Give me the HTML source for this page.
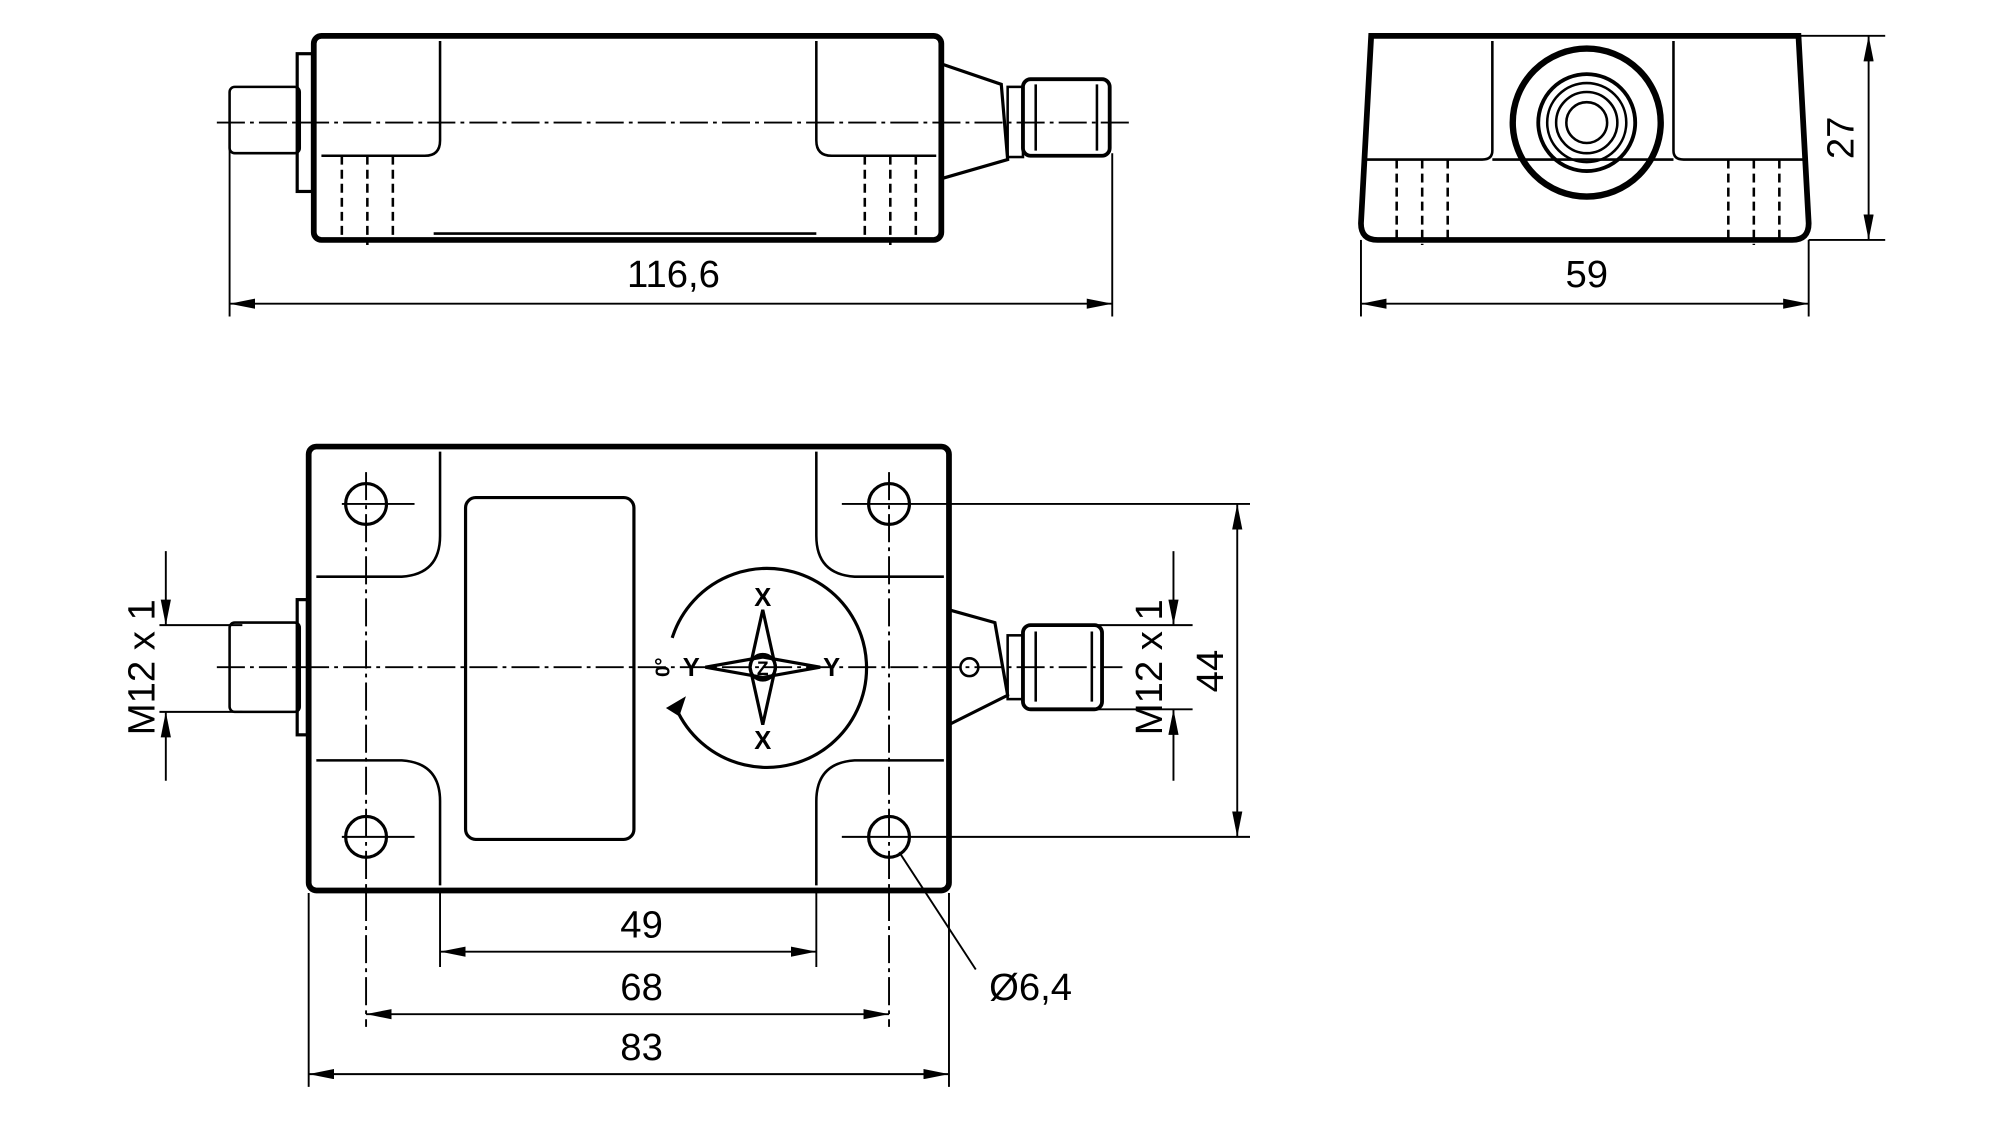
<!DOCTYPE html>
<html><head><meta charset="utf-8"><style>
html,body{margin:0;padding:0;background:#fff}
svg{display:block}
text{font-family:"Liberation Sans",sans-serif;fill:#000}
</style></head><body>
<svg width="2000" height="1124" viewBox="0 0 1568 881" xmlns="http://www.w3.org/2000/svg">
<defs>
<marker id="a" markerWidth="20" markerHeight="8" refX="20" refY="4" orient="auto" markerUnits="userSpaceOnUse"><path d="M0,0 L20,4 L0,8 z" fill="#000"/></marker>
<marker id="b" markerWidth="20" markerHeight="8" refX="0" refY="4" orient="auto" markerUnits="userSpaceOnUse"><path d="M20,0 L0,4 L20,8 z" fill="#000"/></marker>
</defs>
<g fill="none" stroke="#000" stroke-width="2">
<!-- TOP LEFT VIEW -->
<rect x="246" y="28" width="492" height="160" rx="6" stroke-width="4.5"/>
<path d="M345,32 L345,110 Q345,122 333,122 L252,122"/>
<path d="M640,32 L640,110 Q640,122 652,122 L734,122"/>
<line x1="340" y1="183" x2="640" y2="183"/>
<g stroke-dasharray="7,4"><line x1="268" y1="122" x2="268" y2="188"/><line x1="288" y1="122" x2="288" y2="192"/><line x1="308" y1="122" x2="308" y2="188"/>
<line x1="678" y1="122" x2="678" y2="188"/><line x1="698" y1="122" x2="698" y2="192"/><line x1="718" y1="122" x2="718" y2="188"/></g>
<rect x="180" y="68" width="55" height="52" rx="4"/>
<rect x="233" y="42" width="12" height="108" stroke-width="2.5"/>
<path d="M738,50 L785,66 L790,125 L738,140" stroke-width="2.5"/>
<rect x="790" y="68" width="12" height="55"/>
<rect x="802" y="62" width="68" height="60" rx="6" stroke-width="3"/>
<line x1="812" y1="66" x2="812" y2="118"/><line x1="860" y1="66" x2="860" y2="118"/>
<line x1="170" y1="96" x2="885" y2="96" stroke-dasharray="22,4,3,4" stroke-width="1.5"/>
<line x1="180" y1="98" x2="180" y2="248" stroke-width="1.5"/><line x1="872" y1="120" x2="872" y2="248" stroke-width="1.5"/>
<line x1="180" y1="238" x2="872" y2="238" marker-start="url(#b)" marker-end="url(#a)" stroke-width="1.5"/>
<!-- TOP RIGHT VIEW -->
<path d="M1075,28 L1410,28 L1418,175 Q1418,188 1405,188 L1080,188 Q1067,188 1067,175 Z" stroke-width="4.5"/>
<path d="M1170,32 L1170,118 Q1170,125 1162,125 L1070,125"/>
<path d="M1312,32 L1312,118 Q1312,125 1320,125 L1415,125"/>
<line x1="1170" y1="125" x2="1312" y2="125"/>
<g stroke-dasharray="7,4"><line x1="1095" y1="125" x2="1095" y2="188"/><line x1="1115" y1="125" x2="1115" y2="192"/><line x1="1135" y1="125" x2="1135" y2="188"/>
<line x1="1355" y1="125" x2="1355" y2="188"/><line x1="1375" y1="125" x2="1375" y2="192"/><line x1="1395" y1="125" x2="1395" y2="188"/></g>
<circle cx="1244" cy="96" r="58" stroke-width="5"/>
<circle cx="1244" cy="96" r="38" stroke-width="3"/>
<circle cx="1244" cy="96" r="31"/>
<circle cx="1244" cy="96" r="24"/>
<circle cx="1244" cy="96" r="16"/>
<line x1="1067" y1="188" x2="1067" y2="248" stroke-width="1.5"/><line x1="1418" y1="188" x2="1418" y2="248" stroke-width="1.5"/>
<line x1="1067" y1="238" x2="1418" y2="238" marker-start="url(#b)" marker-end="url(#a)" stroke-width="1.5"/>
<line x1="1410" y1="28" x2="1478" y2="28" stroke-width="1.5"/><line x1="1418" y1="188" x2="1478" y2="188" stroke-width="1.5"/>
<line x1="1465" y1="28" x2="1465" y2="188" marker-start="url(#b)" marker-end="url(#a)" stroke-width="1.5"/>
<!-- BOTTOM VIEW -->
<rect x="242" y="350" width="502" height="348" rx="6" stroke-width="4.5"/>
<path d="M345,354 L345,420 Q345,450 315,452 L248,452"/>
<path d="M640,354 L640,420 Q640,450 670,452 L740,452"/>
<path d="M345,694 L345,628 Q345,598 315,596 L248,596"/>
<path d="M640,694 L640,628 Q640,598 670,596 L740,596"/>
<rect x="365" y="390" width="132" height="268" rx="8" stroke-width="2.5"/>
<g>
<circle cx="287" cy="395" r="16" stroke-width="2.5"/><circle cx="697" cy="395" r="16" stroke-width="2.5"/>
<circle cx="287" cy="656" r="16" stroke-width="2.5"/><circle cx="697" cy="656" r="16" stroke-width="2.5"/>
<line x1="268" y1="395" x2="325" y2="395" stroke-width="1.5"/><line x1="660" y1="395" x2="980" y2="395" stroke-width="1.5"/>
<line x1="268" y1="656" x2="325" y2="656" stroke-width="1.5"/><line x1="660" y1="656" x2="980" y2="656" stroke-width="1.5"/>
</g>
<g stroke-dasharray="22,4,3,4" stroke-width="1.5">
<line x1="287" y1="370" x2="287" y2="805"/><line x1="697" y1="370" x2="697" y2="805"/>
<line x1="170" y1="523" x2="880" y2="523"/>
</g>
<path d="M527,500 A78,78 0 1 1 530,555" stroke-width="2.5"/>
<path d="M524,555 L536,548 L532,560 Z" fill="#000"/>
<path d="M598,478 L608,523 L598,568 L588,523 Z" stroke-width="2.5"/>
<path d="M553,523 L598,515 L643,523 L598,531 Z" stroke-width="2.5"/>
<circle cx="598" cy="523" r="10" stroke-width="2.5"/>
<line x1="242" y1="700" x2="242" y2="852" stroke-width="1.5"/><line x1="744" y1="700" x2="744" y2="852" stroke-width="1.5"/>
<line x1="345" y1="698" x2="345" y2="758" stroke-width="1.5"/><line x1="640" y1="698" x2="640" y2="758" stroke-width="1.5"/>
<line x1="345" y1="746" x2="640" y2="746" marker-start="url(#b)" marker-end="url(#a)" stroke-width="1.5"/>
<line x1="287" y1="795" x2="697" y2="795" marker-start="url(#b)" marker-end="url(#a)" stroke-width="1.5"/>
<line x1="242" y1="842" x2="744" y2="842" marker-start="url(#b)" marker-end="url(#a)" stroke-width="1.5"/>
<line x1="970" y1="395" x2="970" y2="656" marker-start="url(#b)" marker-end="url(#a)" stroke-width="1.5"/>
<line x1="705" y1="668" x2="765" y2="760" stroke-width="1.5"/>
<!-- left connector bottom -->
<rect x="180" y="488" width="55" height="70" rx="4"/>
<rect x="233" y="470" width="8" height="106" stroke-width="2.5"/>
<line x1="125" y1="490" x2="190" y2="490" stroke-width="1.5"/><line x1="125" y1="558" x2="190" y2="558" stroke-width="1.5"/>
<line x1="130" y1="432" x2="130" y2="490" marker-end="url(#a)" stroke-width="1.5"/>
<line x1="130" y1="612" x2="130" y2="558" marker-end="url(#a)" stroke-width="1.5"/>
<!-- right connector bottom -->
<path d="M744,478 L780,488 L790,545 L744,568" stroke-width="2.5"/>
<circle cx="760" cy="523" r="7"/>
<rect x="790" y="498" width="12" height="50"/>
<rect x="802" y="490" width="62" height="66" rx="6" stroke-width="3"/>
<line x1="812" y1="495" x2="812" y2="550"/><line x1="856" y1="495" x2="856" y2="550"/>
<line x1="860" y1="490" x2="935" y2="490" stroke-width="1.5"/><line x1="860" y1="556" x2="935" y2="556" stroke-width="1.5"/>
<line x1="920" y1="432" x2="920" y2="490" marker-end="url(#a)" stroke-width="1.5"/>
<line x1="920" y1="612" x2="920" y2="556" marker-end="url(#a)" stroke-width="1.5"/>
</g>
<g font-size="30" text-anchor="middle">
<text x="528" y="225">116,6</text>
<text x="1244" y="225">59</text>
<text x="0" y="0" transform="translate(1453,108) rotate(-90)">27</text>
<text x="503" y="735">49</text>
<text x="503" y="784">68</text>
<text x="503" y="831">83</text>
<text x="0" y="0" transform="translate(959,526) rotate(-90)">44</text>
<text x="0" y="0" transform="translate(121,523) rotate(-90)">M12 x 1</text>
<text x="0" y="0" transform="translate(911,523) rotate(-90)">M12 x 1</text>
<text x="808" y="784">Ø6,4</text>
</g>
<g font-size="20" font-weight="bold" text-anchor="middle">
<text x="598" y="475">X</text><text x="598" y="587">X</text>
<text x="542" y="530">Y</text><text x="652" y="530">Y</text>
<text x="598" y="529" font-size="15">Z</text>
<text x="0" y="0" transform="translate(525,523) rotate(-90)" font-size="16">0°</text>
</g>
</svg>
</body></html>
